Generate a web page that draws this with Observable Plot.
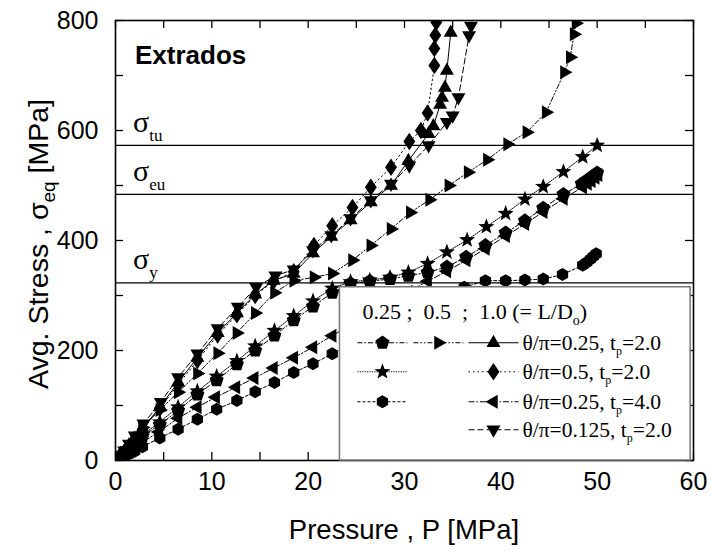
<!DOCTYPE html>
<html><head><meta charset="utf-8">
<script src="https://cdn.jsdelivr.net/npm/d3@7"></script>
<script src="https://cdn.jsdelivr.net/npm/@observablehq/plot@0.6"></script>
<style>body{margin:0;background:#fff}</style>
</head><body><div id="chart"></div>
<script>
// ---------- data (Pressure P [MPa], Avg. Stress [MPa]) ----------
const xTickLabels = [0, 10, 20, 30, 40, 50, 60];
const yTickLabels = [0, 200, 400, 600, 800];
const xMinorTicks = [0, 5, 10, 15, 20, 25, 30, 35, 40, 45, 50, 55, 60];
const yMinorTicks = [0, 100, 200, 300, 400, 500, 600, 700, 800];
const limitNames = ["tu", "eu", "y"];
const limitValues = [573, 484, 323];

// L/D=0.25, θ/π=0.25, tp=2.0 (pentagon)
const pentagonSeries = [[0,0],[0.4,5],[0.9,12],[1.4,20],[2,28],[2.8,44],[4.6,65],[6.5,91],[8.5,120],[10.5,146],[12.6,175],[14.5,200],[16.5,227],[18.5,255],[20.5,280],[22.5,305],[24.4,322],[26.4,326],[28.5,330],[30.4,336],[32.4,342],[34.4,352],[36.4,370],[38.4,391],[40.5,414],[42.5,436],[44.4,459],[46.5,484],[48.4,503],[48.9,509],[49.3,514],[49.7,519],[50,523]];
// L/D=0.5, θ/π=0.25, tp=2.0 (right triangle)
const rightTriSeries = [[0,0],[0.4,6],[0.9,14],[1.4,24],[2,38],[2.8,60],[4.6,92],[6.5,124],[8.5,158],[10.6,195],[12.6,232],[14.5,268],[16.5,305],[18.5,327],[20.6,333],[22.5,340],[24.6,364],[26.5,391],[28.6,421],[30.6,451],[32.6,474],[34.6,500],[36.6,524],[38.6,547],[40.7,575],[42.7,597],[44.7,633],[46.6,706],[47.2,733],[47.6,775],[47.8,795]];
// L/D=1.0, θ/π=0.25, tp=2.0 (up triangle)
const upTriSeries = [[0,0],[0.4,7],[0.9,16],[1.4,27],[2,40],[2.8,58],[4.6,97],[6.5,142],[8.5,187],[10.6,232],[12.6,268],[14.5,302],[16.4,327],[18.5,340],[20.5,377],[22.4,407],[24.4,437],[26.5,470],[28.6,500],[30.4,545],[32.5,594],[33,608],[33.7,647],[33.9,660],[34.2,678],[34.4,709],[34.8,778]];
// L/D=0.25, θ/π=0.5, tp=2.0 (star)
const starSeries = [[0,0],[0.4,6],[0.9,13],[1.4,21],[2,30],[2.8,46],[4.6,70],[6.5,97],[8.5,126],[10.5,153],[12.6,181],[14.5,208],[16.5,236],[18.5,263],[20.5,290],[22.5,313],[24.4,325],[26.4,328],[28.5,333],[30.4,342],[32.4,358],[34.4,379],[36.5,401],[38.5,425],[40.5,449],[42.5,475],[44.4,498],[46.5,525],[48.5,552],[50,573]];
// L/D=1.0, θ/π=0.5, tp=2.0 (diamond)
const diamondSeries = [[0,0],[0.4,7],[0.9,15],[1.4,26],[2,38],[2.8,56],[4.6,95],[6.5,138],[8.5,182],[10.6,228],[12.6,265],[14.5,300],[16.4,326],[18.5,343],[20.6,391],[22.5,427],[24.6,460],[26.5,497],[28.6,533],[30.5,580],[31.7,600],[32.4,632],[33.1,718],[33.1,749],[33.2,773],[33.3,797]];
// L/D=0.25, θ/π=0.25, tp=4.0 (hexagon)
const hexagonSeries = [[0,0],[0.4,4],[0.9,8],[1.4,12],[2,17],[2.8,25],[4.6,41],[6.5,57],[8.5,75],[10.5,93],[12.6,109],[14.5,125],[16.5,142],[18.5,160],[20.5,176],[22.5,194],[24.4,210],[26.4,227],[28.5,245],[30.4,262],[32.4,280],[34.4,298],[36.2,315],[38.4,327],[40.5,327],[42.5,328],[44.4,330],[46.4,338],[48.5,355],[48.9,360],[49.3,366],[49.6,371],[49.9,376]];
// L/D=1.0, θ/π=0.25, tp=4.0 (left triangle)
const leftTriSeries = [[0,0],[0.4,5],[0.9,10],[1.4,15],[2,22],[2.8,33],[4.5,52],[6.5,77],[8.5,97],[10.4,115],[12.5,133],[14.4,150],[16.4,168],[18.5,187],[20.5,206],[22.5,227],[24.4,246],[26.4,266],[28.5,287],[30.4,307],[32.4,326],[34.4,344],[36.4,364],[38.4,385],[40.5,408],[42.5,430],[44.4,452],[46.5,476],[48.5,497],[49,503],[49.4,508],[49.8,514],[50.1,519]];
// L/D=1.0, θ/π=0.125, tp=2.0 (down triangle)
const downTriSeries = [[0,0],[0.4,8],[0.9,18],[1.4,30],[2,45],[2.9,67],[4.7,106],[6.5,151],[8.5,194],[10.6,240],[12.7,279],[14.6,315],[16.6,336],[18.5,347],[20.5,382],[22.4,409],[24.4,440],[26.5,473],[28.6,503],[30.5,536],[32.5,573],[34.4,615],[35,627],[35.6,660],[36.7,773],[36.9,790]];

const legendHeader = "0.25 ;  0.5  ;  1.0 (= L/D";
const legendRows = [
  {theta: "0.25", tp: "2.0"},
  {theta: "0.5", tp: "2.0"},
  {theta: "0.25", tp: "4.0"},
  {theta: "0.125", tp: "2.0"}
];

// ---------- symbols ----------
function poly(pts) {
  return {draw(ctx, size) {
    const r = Math.sqrt(size / Math.PI);
    pts.forEach(([a, b], i) => i ? ctx.lineTo(a * r, b * r) : ctx.moveTo(a * r, b * r));
    ctx.closePath();
  }};
}
function regular(n, rot, k = 1) {
  const pts = [];
  for (let i = 0; i < n; i++) {
    const a = rot + i * 2 * Math.PI / n;
    pts.push([k * Math.cos(a), k * Math.sin(a)]);
  }
  return pts;
}
function starPts(k) {
  const pts = [];
  for (let i = 0; i < 10; i++) {
    const a = -Math.PI / 2 + i * Math.PI / 5;
    const r = i % 2 ? 0.42 * k : k;
    pts.push([r * Math.cos(a), r * Math.sin(a)]);
  }
  return pts;
}
const symPentagon = poly(regular(5, -Math.PI / 2, 1.05));
const symHexagon = poly(regular(6, -Math.PI / 2, 1.0));
const symUp = poly([[0, -1.15], [1.0, 0.6], [-1.0, 0.6]]);
const symDown = poly([[0, 1.15], [1.0, -0.6], [-1.0, -0.6]]);
const symLeft = poly([[-1.15, 0], [0.6, -1.0], [0.6, 1.0]]);
const symRight = poly([[1.15, 0], [-0.6, -1.0], [-0.6, 1.0]]);
const symDiamond = poly([[0, -1.25], [0.85, 0], [0, 1.25], [-0.85, 0]]);
const symStar = poly(starPts(1.3));

const series = [
  {data: pentagonSeries, sym: symPentagon, dash: "5,2,1.5,2", r: 7},
  {data: rightTriSeries, sym: symRight, dash: "5,2,1.5,2,1.5,2", r: 7},
  {data: upTriSeries, sym: symUp, dash: null, r: 7},
  {data: starSeries, sym: symStar, dash: "1.2,1.2", r: 6.5},
  {data: diamondSeries, sym: symDiamond, dash: "1.5,3", r: 7},
  {data: hexagonSeries, sym: symHexagon, dash: "3,2", r: 6.5},
  {data: leftTriSeries, sym: symLeft, dash: "6,2,1.5,2", r: 7},
  {data: downTriSeries, sym: symDown, dash: "6,3", r: 7}
];

const W = 712, H = 552, mL = 115, mR = 19, mT = 20, mB = 92;
const pw = W - mL - mR, ph = H - mT - mB, tick = 8;

const marks = [
  Plot.ruleY(limitValues, {y: d => d, stroke: "black", strokeWidth: 1.3})
];
for (const s of series) {
  marks.push(Plot.line(s.data, {x: d => d[0], y: d => d[1], stroke: "black", strokeWidth: 1, strokeDasharray: s.dash || undefined, clip: true}));
}
for (const s of series) {
  marks.push(Plot.dot(s.data, {x: d => d[0], y: d => d[1], symbol: s.sym, r: s.r, fill: "black", stroke: "none", clip: true}));
}
marks.push(
  Plot.tickX(xMinorTicks, {x: d => d, insetTop: ph - tick, stroke: "black", strokeWidth: 1.3}),
  Plot.tickX(xMinorTicks, {x: d => d, insetBottom: ph - tick, stroke: "black", strokeWidth: 1.3}),
  Plot.tickY(yMinorTicks, {y: d => d, insetRight: pw - tick, stroke: "black", strokeWidth: 1.3}),
  Plot.tickY(yMinorTicks, {y: d => d, insetLeft: pw - tick, stroke: "black", strokeWidth: 1.3}),
  Plot.axisX({ticks: xTickLabels, tickSize: 0, tickPadding: 12, label: null, fontSize: 25}),
  Plot.axisY({ticks: yTickLabels, tickSize: 0, tickPadding: 17, label: null, fontSize: 25}),
  Plot.frame({stroke: "black", strokeWidth: 1.6})
);

const chart = Plot.plot({
  width: W, height: H, marginLeft: mL, marginRight: mR, marginTop: mT, marginBottom: mB,
  x: {domain: [0, 60]}, y: {domain: [0, 800]},
  style: {fontFamily: "'Liberation Sans', Arial, sans-serif", background: "white", color: "black", overflow: "visible"},
  marks
});
document.getElementById("chart").appendChild(chart);

// ---------- annotations ----------
const X = v => chart.scale("x").apply(v), Y = v => chart.scale("y").apply(v);
const svg = d3.select(chart);
const sans = "'Liberation Sans', Arial, sans-serif";
const serif = "'Liberation Serif', 'Times New Roman', serif";

svg.append("text").attr("x", X(0) + 20).attr("y", Y(800) + 44).attr("text-anchor", "start")
  .attr("font-family", sans).attr("font-weight", "bold").attr("font-size", 26).attr("fill", "black")
  .text("Extrados");

limitNames.forEach((n, i) => {
  const t = svg.append("text").attr("x", X(0) + 18).attr("y", Y(limitValues[i]) - 13).attr("text-anchor", "start")
    .attr("font-family", serif).attr("font-size", 30).attr("fill", "black");
  t.append("tspan").text("σ");
  t.append("tspan").attr("font-size", 17).attr("dy", 9).text(n);
});

// axis titles
const xl = svg.append("text").attr("y", 539).attr("text-anchor", "start")
  .attr("font-family", sans).attr("font-size", 27.5).attr("fill", "black")
  .text("Pressure , P [MPa]");
xl.attr("x", (X(0) + X(60)) / 2 - xl.node().getComputedTextLength() / 2);

const yl = svg.append("text").attr("text-anchor", "start")
  .attr("font-family", sans).attr("font-size", 28.5).attr("fill", "black");
yl.append("tspan").text("Avg. Stress , σ");
yl.append("tspan").attr("font-size", 19).attr("dy", 7).text("eq");
yl.append("tspan").attr("dy", -7).text(" [MPa]");
const yLen = yl.node().getComputedTextLength();
yl.attr("transform", `translate(48,${244 + yLen / 2}) rotate(-90)`);

// ---------- legend ----------
const lg = svg.append("g");
const bx0 = X(23.3), by0 = Y(315), bx1 = X(59.7), by1 = Y(0);
lg.append("rect").attr("x", bx0).attr("y", by0).attr("width", bx1 - bx0).attr("height", by1 - by0)
  .attr("fill", "white").attr("stroke", "#777").attr("stroke-width", 1.5);
const hdr = lg.append("text").attr("x", bx0 + 23).attr("y", by0 + 32).attr("text-anchor", "start")
  .attr("font-family", serif).attr("font-size", 22).attr("fill", "black");
hdr.append("tspan").style("white-space", "pre").text(legendHeader);
hdr.append("tspan").attr("font-size", 14).attr("dy", 6).text("o");
hdr.append("tspan").attr("dy", -6).text(")");

const colX = [bx0 + 43, bx0 + 99, bx0 + 154];
const rowY = [by0 + 56, by0 + 85, by0 + 115, by0 + 143];
const legendCells = [
  [0, 0, 0], [0, 1, 1], [0, 2, 2],
  [1, 0, 3], [1, 2, 4],
  [2, 0, 5], [2, 2, 6],
  [3, 2, 7]
];
for (const [row, col, si] of legendCells) {
  const s = series[si], cx = colX[col], cy = rowY[row];
  lg.append("line").attr("x1", cx - 25).attr("x2", cx + 25).attr("y1", cy).attr("y2", cy)
    .attr("stroke", "black").attr("stroke-width", 1).attr("stroke-dasharray", s.dash || null);
  lg.append("path").attr("transform", `translate(${cx},${cy})`)
    .attr("d", d3.symbol().type(s.sym).size(Math.PI * s.r * s.r)()).attr("fill", "black");
}
legendRows.forEach((r, i) => {
  const t = lg.append("text").attr("x", bx0 + 183).attr("y", rowY[i] + 7).attr("text-anchor", "start")
    .attr("font-family", serif).attr("font-size", 21.5).attr("fill", "black");
  t.append("tspan").text(`θ/π=${r.theta}, t`);
  t.append("tspan").attr("font-size", 12).attr("dy", 5).text("p");
  t.append("tspan").attr("dy", -5).text(`=${r.tp}`);
});
</script>
</body></html>
